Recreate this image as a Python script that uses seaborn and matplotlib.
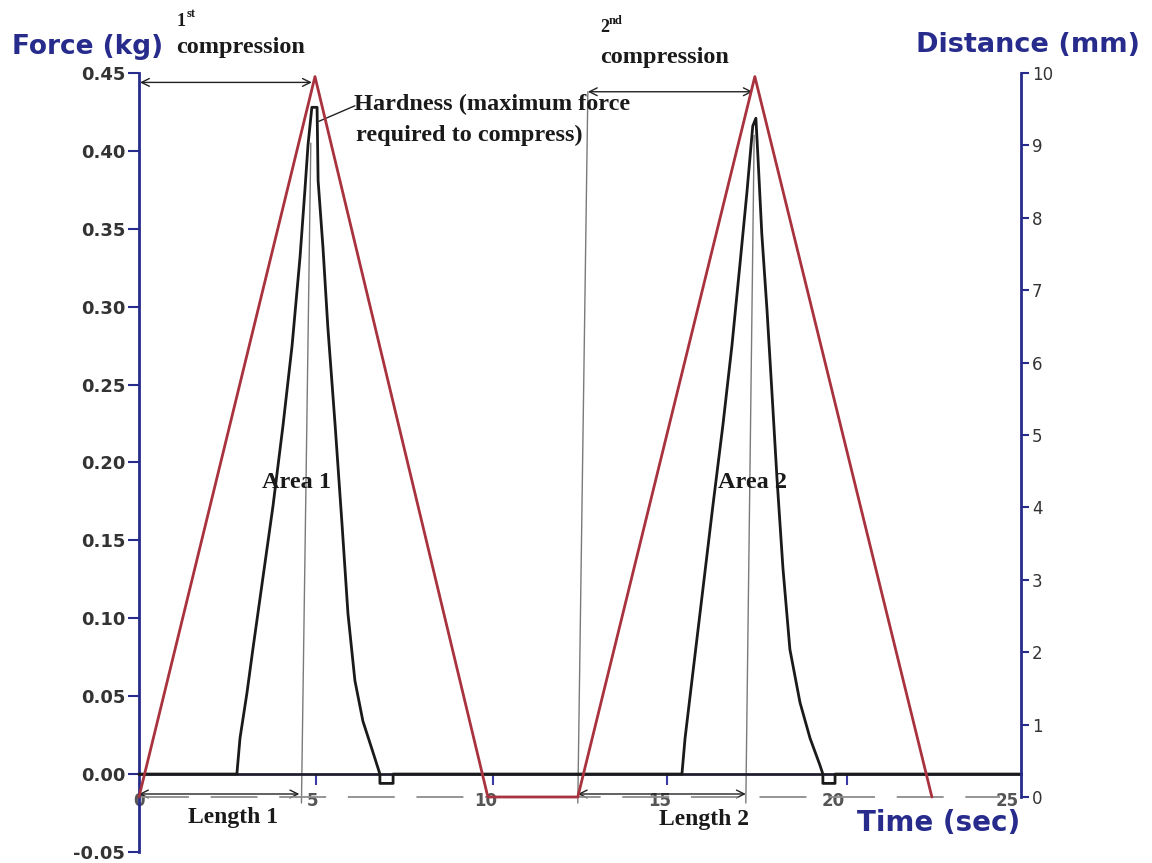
import matplotlib
matplotlib.use("Agg")
import matplotlib.pyplot as plt
import numpy as np
import pandas as pd
import seaborn as sns

# distance (red), mm
dist_time = [0, 5.07, 10.05, 12.64, 17.74, 22.84]
dist_mm = [0, 9.95, 0, 0, 9.95, 0]

# force (black), kg
force_time = [
    0, 2.82, 2.91, 3.11, 3.28, 3.57, 3.86, 4.15, 4.41, 4.64, 4.78, 4.87, 4.98,
    5.13, 5.16, 5.30, 5.44, 5.65, 5.85, 6.02, 6.22, 6.45, 6.74, 6.94, 6.94, 7.32, 7.32,
    15.64, 15.73, 15.96, 16.24, 16.53, 16.82, 17.08, 17.31, 17.51, 17.68, 17.77,
    17.83, 17.94, 18.09, 18.23, 18.38, 18.55, 18.75, 19.04, 19.33, 19.61, 19.70, 19.70,
    20.05, 20.05, 25.4,
]
force_kg = [
    0, 0, 0.023, 0.052, 0.080, 0.126, 0.172, 0.224, 0.275, 0.332, 0.375, 0.404, 0.428,
    0.428, 0.381, 0.338, 0.287, 0.224, 0.160, 0.103, 0.060, 0.034, 0.014, 0, -0.006, -0.006, 0,
    0, 0.023, 0.066, 0.118, 0.172, 0.224, 0.275, 0.327, 0.373, 0.416, 0.421,
    0.396, 0.347, 0.298, 0.246, 0.189, 0.132, 0.080, 0.046, 0.023, 0.006, 0, -0.006,
    -0.006, 0, 0,
]

force_ticks = [-0.05, 0.00, 0.05, 0.10, 0.15, 0.20, 0.25, 0.30, 0.35, 0.40, 0.45]
dist_ticks = list(range(0, 11))
time_ticks = [0, 5, 10, 15, 20, 25]
time_minor = [5.1, 10.2, 15.2, 20.4]
time_end = 25.4

# guide lines (time, force)
arrow_1st = ((0.03, 0.444), (4.98, 0.444))
arrow_2nd = ((12.93, 0.438), (17.68, 0.438))
arrow_len1 = ((0.0, -0.0128), (4.62, -0.0128))
arrow_len2 = ((12.64, -0.0128), (17.48, -0.0128))
guide_lines = [
    ((4.68, -0.0186), (4.95, 0.405)),
    ((17.48, -0.0186), (17.72, 0.41)),
    ((12.64, -0.0186), (12.93, 0.438)),
]
hardness_ptr = ((6.22, 0.429), (5.18, 0.419))

NAVY = "#262b8c"
DARK = "#1e1e2e"
RED = "#a8323e"
GRAY = "#7a7a7a"
W, H = 1152, 863


def px(x, y):
    return x / W, 1 - y / H


sns.set_theme(style="white")
plt.rcParams["font.family"] = ["DejaVu Sans"]

fig = plt.figure(figsize=(11.52, 8.63), dpi=100)
ax = fig.add_axes([0, 0, 1, 1])
ax.set_xlim(-4.003, 29.18)
ax.set_ylim(-0.0571, 0.4969)
ax2 = ax.twinx()
ax2.set_ylim(-0.9116, 11.008)
ax2.set_xlim(-4.003, 29.18)

df_force = pd.DataFrame({"time": force_time, "force": force_kg})
df_dist = pd.DataFrame({"time": dist_time, "dist": dist_mm})

# dashed baseline at distance 0
ax2.plot([0.1, 24.8], [0, 0], color="#8c8c8c", lw=1.3, dashes=(26, 12), zorder=1)

sns.lineplot(data=df_force, x="time", y="force", ax=ax, sort=False,
             estimator=None, color="#1a1a1a", lw=2.0, zorder=4)
sns.lineplot(data=df_dist, x="time", y="dist", ax=ax2, sort=False,
             estimator=None, color=RED, lw=2.0, zorder=3)

# spines
for s in ["top", "right"]:
    ax.spines[s].set_visible(False)
ax.spines["left"].set_position(("data", 0))
ax.spines["left"].set_bounds(-0.05, 0.45)
ax.spines["left"].set_color(NAVY)
ax.spines["left"].set_linewidth(2)
ax.spines["bottom"].set_position(("data", 0))
ax.spines["bottom"].set_bounds(0, time_end)
ax.spines["bottom"].set_color(DARK)
ax.spines["bottom"].set_linewidth(2)

for s in ["top", "left", "bottom"]:
    ax2.spines[s].set_visible(False)
ax2.spines["right"].set_position(("data", time_end))
ax2.spines["right"].set_bounds(0, 10)
ax2.spines["right"].set_color(NAVY)
ax2.spines["right"].set_linewidth(2)

ax.set_yticks(force_ticks)
ax.set_yticklabels([f"{v:.2f}" for v in force_ticks])
ax.tick_params(axis="y", left=True, direction="out", length=8, width=1.5,
               color=NAVY, labelsize=13, labelcolor="#333333", pad=2)
for lab in ax.get_yticklabels():
    lab.set_fontweight("bold")

ax.set_xticks(time_ticks)
ax.set_xticklabels([str(v) for v in time_ticks])
ax.set_xticks(time_minor, minor=True)
ax.tick_params(axis="x", which="major", bottom=True, length=0, pad=13,
               labelsize=12, labelcolor="#555555")
ax.tick_params(axis="x", which="minor", bottom=True, length=8, width=1.5,
               color="#3a3aa8", direction="out")
for lab in ax.get_xticklabels():
    lab.set_fontweight("bold")

ax2.set_yticks(dist_ticks)
ax2.tick_params(axis="y", right=True, direction="out", length=6, width=1.5,
                color=NAVY, labelsize=12, labelcolor="#333333", pad=2)
ax.set_xlabel("")
ax.set_ylabel("")
ax2.set_ylabel("")
ax.grid(False)
ax2.grid(False)

# arrows and guide lines
arrow_kw = dict(arrowstyle="<->", lw=1.0, color="#222222",
                shrinkA=0, shrinkB=0, mutation_scale=14)
for start, end in [arrow_1st, arrow_2nd, arrow_len1, arrow_len2]:
    ax.annotate("", xy=end, xytext=start, arrowprops=arrow_kw, zorder=5)
for (x0, y0), (x1, y1) in guide_lines:
    ax.plot([x0, x1], [y0, y1], color=GRAY, lw=1.0, zorder=2)
(hx0, hy0), (hx1, hy1) = hardness_ptr
ax.plot([hx0, hx1], [hy0, hy1], color="#222222", lw=1.0, zorder=5)

# texts
serif = dict(family="Liberation Serif", weight="bold", color="#1a1a1a")
sans = dict(family="DejaVu Sans", weight="bold", color=NAVY)

fig.text(*px(12, 47), "Force (kg)", ha="left", va="center", fontsize=19, **sans)
fig.text(*px(1140, 45), "Distance (mm)", ha="right", va="center", fontsize=19.5, **sans)
fig.text(*px(1020, 823), "Time (sec)", ha="right", va="center", fontsize=20, **sans)

fig.text(*px(177, 21), "1", ha="left", va="center", fontsize=13, **serif)
fig.text(*px(187, 14), "st", ha="left", va="center", fontsize=9, **serif)
fig.text(*px(176, 48), "compression", ha="left", va="center", fontsize=17.5, **serif)
fig.text(*px(600, 28), "2", ha="left", va="center", fontsize=13, **serif)
fig.text(*px(609, 21), "nd", ha="left", va="center", fontsize=9, **serif)
fig.text(*px(600, 58), "compression", ha="left", va="center", fontsize=17.5, **serif)
fig.text(*px(354, 104), "Hardness (maximum force", ha="left", va="center", fontsize=17.5, **serif)
fig.text(*px(356, 135), "required to compress)", ha="left", va="center", fontsize=17.5, **serif)
fig.text(*px(297, 482), "Area 1", ha="center", va="center", fontsize=17.5, **serif)
fig.text(*px(752, 482), "Area 2", ha="center", va="center", fontsize=17.5, **serif)
fig.text(*px(233, 817), "Length 1", ha="center", va="center", fontsize=17, **serif)
fig.text(*px(704, 819), "Length 2", ha="center", va="center", fontsize=17, **serif)

fig.savefig("out.png", dpi=100, facecolor="white")
